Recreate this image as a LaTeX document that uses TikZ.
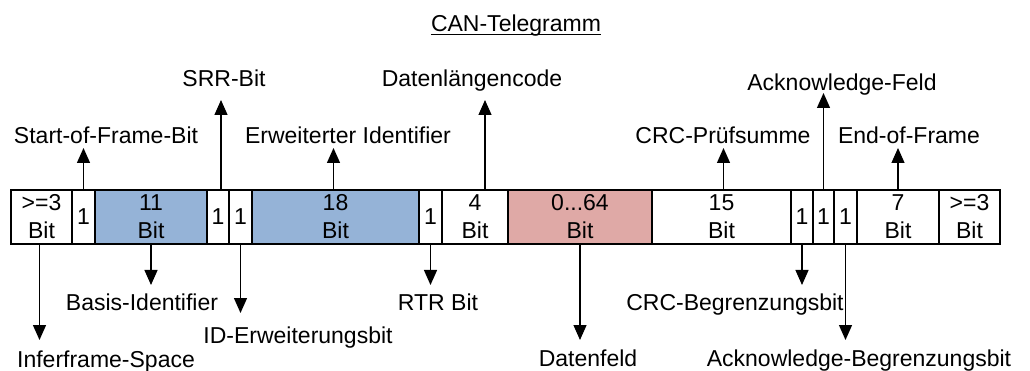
\documentclass[tikz,border=0pt]{standalone}
\usepackage{fontspec}
\setmainfont{Liberation Sans}
\usetikzlibrary{arrows.meta}
\definecolor{idblue}{RGB}{149,179,215}
\definecolor{datared}{RGB}{223,169,166}
\begin{document}
\begin{tikzpicture}[x=1pt,y=-1pt,
  txt/.style={font=\fontsize{23}{28}\selectfont},
  field/.style={txt, draw, line width=1.8pt, fill=white, minimum height=54pt,
    inner sep=0pt, outer sep=0pt, anchor=north west, align=center},
  lbl/.style={txt, anchor=base, inner sep=0pt},
  arr/.style={line width=1.3pt, -{Triangle[length=15pt,width=13pt]}}]
\useasboundingbox (0,0) rectangle (1030,371);

% title
\node[lbl] (title) at (516,32) {CAN-Telegramm};
\draw[line width=1.3pt] ([yshift=-2.2pt]title.base west) -- ([yshift=-2.2pt]title.base east);

% frame fields
\node[field, minimum width=61pt] (f1) at (11,190) {>=3\\Bit};
\node[field, minimum width=23pt] (f2) at (f1.north east) {1};
\node[field, minimum width=112pt, fill=idblue] (f3) at (f2.north east) {11\\Bit};
\node[field, minimum width=22pt] (f4) at (f3.north east) {1};
\node[field, minimum width=23pt] (f5) at (f4.north east) {1};
\node[field, minimum width=167pt, fill=idblue] (f6) at (f5.north east) {18\\Bit};
\node[field, minimum width=23pt] (f7) at (f6.north east) {1};
\node[field, minimum width=66pt] (f8) at (f7.north east) {4\\Bit};
\node[field, minimum width=144pt, fill=datared] (f9) at (f8.north east) {0...64\\Bit};
\node[field, minimum width=139pt] (f10) at (f9.north east) {15\\Bit};
\node[field, minimum width=22pt] (f11) at (f10.north east) {1};
\node[field, minimum width=21pt] (f12) at (f11.north east) {1};
\node[field, minimum width=23pt] (f13) at (f12.north east) {1};
\node[field, minimum width=82pt] (f14) at (f13.north east) {7\\Bit};
\node[field, minimum width=61pt] (f15) at (f14.north east) {>=3\\Bit};

% labels above
\node[lbl] (sof)  at (106,144) {Start-of-Frame-Bit};
\node[lbl] (srr)  at (224,87)  {SRR-Bit};
\node[lbl] (eid)  at (348,144) {Erweiterter Identifier};
\node[lbl] (dlc)  at (472,87)  {Datenlängencode};
\node[lbl] (crc)  at (723,144) {CRC-Prüfsumme};
\node[lbl] (ack)  at (842,91)  {Acknowledge-Feld};
\node[lbl] (eof)  at (909,144) {End-of-Frame};

% labels below
\node[lbl] (bid)  at (142,310) {Basis-Identifier};
\node[lbl] (rtr)  at (438,310) {RTR Bit};
\node[lbl] (ide)  at (298,343) {ID-Erweiterungsbit};
\node[lbl] (ifs)  at (106,367) {Inferframe-Space};
\node[lbl] (crcd) at (735,310) {CRC-Begrenzungsbit};
\node[lbl] (dat)  at (588,366) {Datenfeld};
\node[lbl] (ackd) at (859,366) {Acknowledge-Begrenzungsbit};

% pointers upwards
\draw[arr] (f2.north) -- ++(0,-42) coordinate (sofTip);
\draw[arr] ([xshift=3pt]f4.north) -- ++(0,-90) coordinate (srrTip);
\draw[arr] ([xshift=-2pt]f6.north) -- ++(0,-42) coordinate (eidTip);
\draw[arr] ([xshift=10pt]f8.north) -- ++(0,-90) coordinate (dlcTip);
\draw[arr] ([xshift=2pt]f10.north) -- ++(0,-42) coordinate (crcTip);
\draw[arr] (f12.north) -- ++(0,-97) coordinate (ackTip);
\draw[arr] (f14.north) -- ++(0,-42) coordinate (eofTip);

% pointers downwards
\draw[arr] ([xshift=-2pt]f1.south) -- ++(0,96) coordinate (ifsTip);
\draw[arr] (f3.south) -- ++(0,41) coordinate (bidTip);
\draw[arr] (f5.south) -- ++(0,69) coordinate (ideTip);
\draw[arr] (f7.south) -- ++(0,41) coordinate (rtrTip);
\draw[arr] (f9.south) -- ++(0,96) coordinate (datTip);
\draw[arr] (f11.south) -- ++(0,41) coordinate (crcdTip);
\draw[arr] (f13.south) -- ++(0,96) coordinate (ackdTip);
\end{tikzpicture}
\end{document}
